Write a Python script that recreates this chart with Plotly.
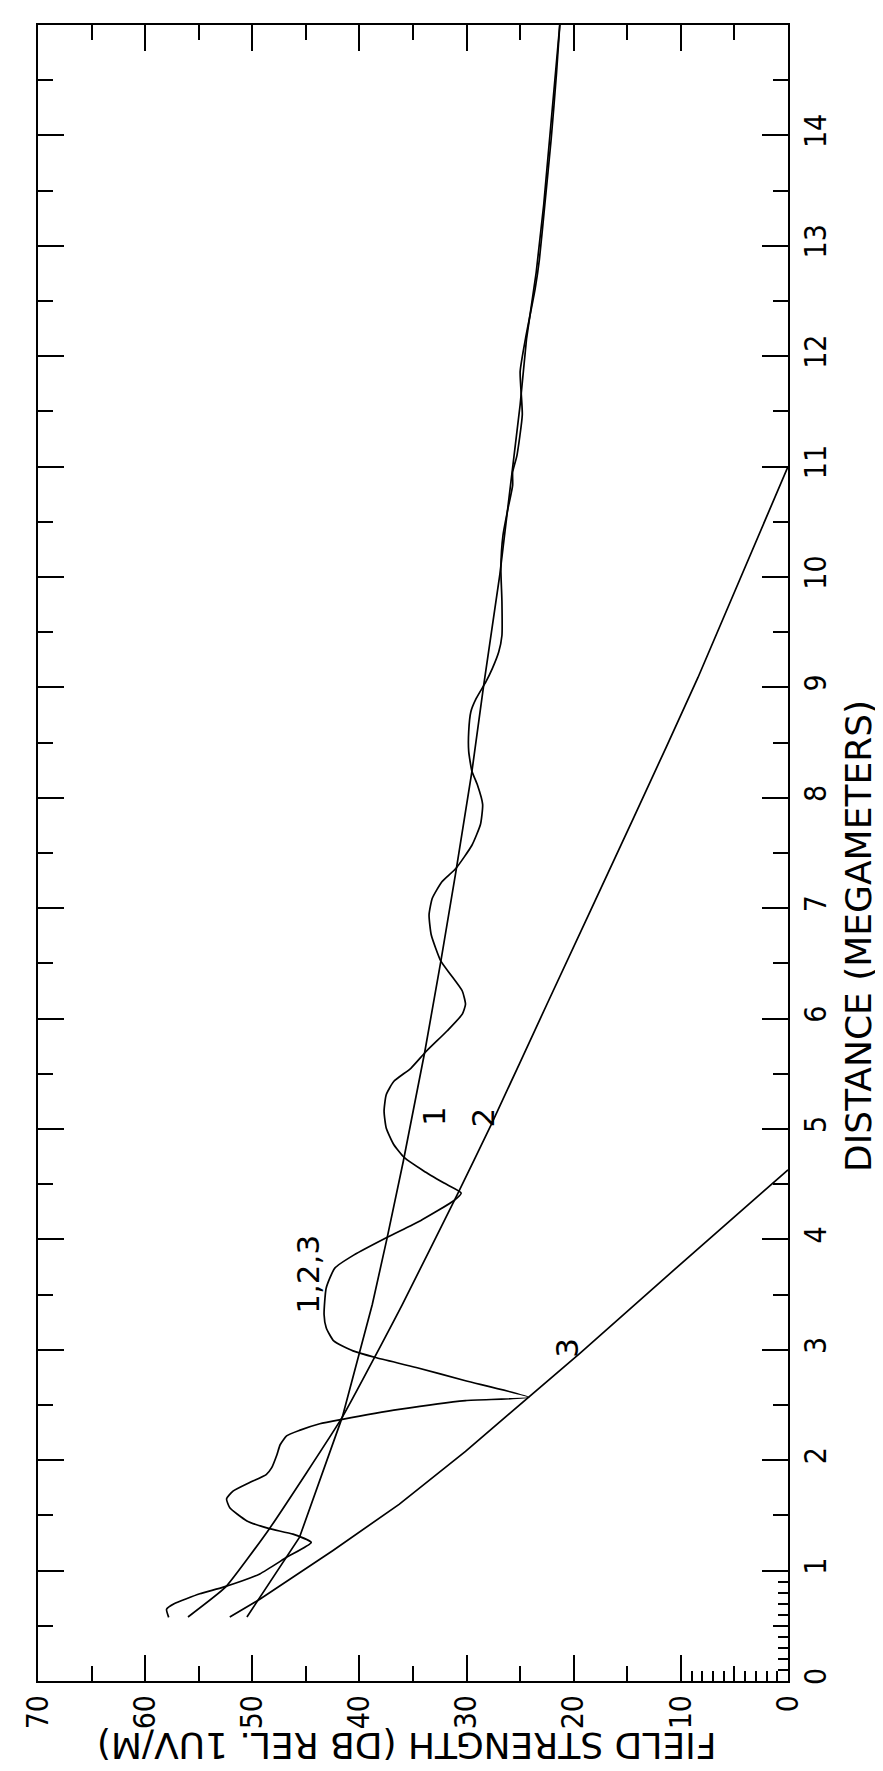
import plotly.graph_objects as go

# ---- data (distance in megameters, field strength in dB rel. 1 uV/m) ----
mode1_dist = [0.58, 1.30, 2.39, 3.41, 4.02, 4.71, 5.70, 6.52, 7.33, 8.24, 9.02,
              10.02, 10.83, 11.56, 12.16, 12.76, 13.37, 14.27, 15.0]
mode1_field = [50.5, 45.6, 41.6, 38.8, 37.4, 35.9, 33.9, 32.4, 31.0, 29.5, 28.4,
               26.9, 25.9, 25.0, 24.4, 23.5, 22.8, 22.0, 21.3]

mode2_dist = [0.58, 0.85, 1.38, 2.39, 3.41, 4.42, 5.04, 6.13, 7.82, 9.09, 11.0]
mode2_field = [56.0, 52.5, 48.4, 41.6, 36.0, 30.8, 27.7, 22.5, 14.4, 8.4, 0.0]

mode3_dist = [0.58, 0.74, 1.18, 1.60, 2.08, 2.57, 2.97, 3.65, 4.50, 4.63]
mode3_field = [52.1, 49.3, 42.5, 36.3, 30.1, 24.2, 19.4, 11.5, 1.5, 0.0]

sum_dist = [0.576, 0.65, 0.70, 0.79, 0.85, 0.97, 1.12, 1.255, 1.33, 1.38, 1.45, 1.57,
            1.65, 1.72, 1.80, 1.87, 1.93, 2.05, 2.14, 2.22, 2.27, 2.33, 2.37, 2.46,
            2.54, 2.57, 2.72, 2.84, 2.93, 2.99, 3.08, 3.20, 3.32, 3.56, 3.74, 3.86,
            4.02, 4.17, 4.35, 4.42, 4.51, 4.62, 4.74, 4.86, 5.01, 5.16, 5.31, 5.43,
            5.55, 5.70, 5.89, 6.04, 6.13, 6.25, 6.40, 6.52, 6.76, 6.94, 7.09, 7.24,
            7.36, 7.57, 7.76, 7.94, 8.12, 8.24, 8.42, 8.60, 8.78, 8.90, 9.05, 9.17,
            9.32, 9.47, 9.78, 10.08, 10.38, 10.59, 10.83, 10.95, 11.10, 11.47, 11.86,
            12.16, 12.61, 12.88, 13.37, 13.97, 14.57, 15.0]
sum_field = [57.8, 58.0, 57.3, 54.9, 52.7, 49.3, 46.8, 44.5, 46.2, 48.4, 50.5, 52.1,
             52.4, 51.8, 50.2, 48.7, 48.2, 47.7, 47.4, 46.8, 45.6, 43.7, 41.6, 36.3,
             30.1, 24.2, 30.1, 34.7, 38.5, 40.6, 42.4, 43.1, 43.3, 43.1, 42.3, 40.5,
             37.4, 34.3, 31.2, 30.5, 32.1, 34.0, 35.8, 36.8, 37.5, 37.7, 37.5, 36.8,
             35.2, 33.8, 31.8, 30.4, 30.1, 30.4, 31.5, 32.4, 33.3, 33.5, 33.2, 32.3,
             31.0, 29.5, 28.7, 28.5, 29.0, 29.5, 29.8, 29.8, 29.6, 29.1, 28.2, 27.6,
             27.0, 26.7, 26.7, 26.8, 26.6, 26.2, 25.7, 25.7, 25.3, 24.8, 25.0,
             24.5, 23.6, 23.2, 22.7, 22.1, 21.6, 21.3]

field_ticks = [0, 10, 20, 30, 40, 50, 60, 70]
dist_ticks = list(range(0, 16))
fine_field_ticks = [1, 2, 3, 4, 5, 6, 7, 8, 9]
fine_dist_ticks = [0.1, 0.2, 0.3, 0.4, 0.5, 0.6, 0.7, 0.8, 0.9]

curve_labels = ["1", "2", "3", "1,2,3"]
curve_label_field = [33.1, 28.5, 20.7, 44.8]
curve_label_dist = [5.12, 5.10, 3.02, 3.68]

# ---- figure ----
LINE = dict(color="black", width=1.7)
TICKFONT = dict(family="Liberation Sans Narrow, DejaVu Sans Condensed, DejaVu Sans, sans-serif",
                size=30, color="black")
TITLEFONT = dict(family="DejaVu Sans, sans-serif", size=36, color="black")

fig = go.Figure()
for xs, ys in [(mode1_field, mode1_dist), (mode3_field, mode3_dist)]:
    fig.add_trace(go.Scatter(x=xs, y=ys, mode="lines", line=LINE,
                             showlegend=False, hoverinfo="skip"))
fig.add_trace(go.Scatter(x=mode2_field, y=mode2_dist, mode="lines",
                         line=dict(color="black", width=1.7, shape="spline", smoothing=0.4),
                         showlegend=False, hoverinfo="skip"))
fig.add_trace(go.Scatter(x=sum_field, y=sum_dist, mode="lines",
                         line=dict(color="black", width=1.7, shape="spline", smoothing=0.5),
                         showlegend=False, hoverinfo="skip"))
# dummy traces so the fine-tick overlay axes are drawn
fig.add_trace(go.Scatter(x=[None], y=[None], xaxis="x2", yaxis="y",
                         showlegend=False, hoverinfo="skip"))
fig.add_trace(go.Scatter(x=[None], y=[None], xaxis="x", yaxis="y2",
                         showlegend=False, hoverinfo="skip"))

for t, fx, dy in zip(curve_labels, curve_label_field, curve_label_dist):
    fig.add_annotation(x=fx, y=dy, text=t, showarrow=False, textangle=-90,
                       xanchor="center", yanchor="middle",
                       font=dict(family="DejaVu Sans, sans-serif", size=31, color="black"))

fig.add_annotation(x=0.491, y=-0.039, xref="paper", yref="paper",
                   text="FIELD STRENGTH (DB REL. 1UV/M)", showarrow=False,
                   textangle=180, xanchor="center", yanchor="middle", font=TITLEFONT)
fig.add_annotation(x=1.095, y=0.45, xref="paper", yref="paper",
                   text="DISTANCE (MEGAMETERS)", showarrow=False,
                   textangle=-90, xanchor="center", yanchor="middle", font=TITLEFONT)

fig.update_layout(
    width=883, height=1771,
    margin=dict(l=28, r=103, t=17, b=98),
    paper_bgcolor="white", plot_bgcolor="white",
    xaxis=dict(range=[70, 0], tickvals=field_ticks, ticks="inside", ticklen=26,
               tickwidth=2, tickcolor="black", showline=True, linewidth=2,
               linecolor="black", mirror="ticks", showgrid=False, zeroline=False,
               tickangle=-90, tickfont=TICKFONT,
               minor=dict(tickvals=[5, 15, 25, 35, 45, 55, 65], ticks="inside",
                          ticklen=15, tickwidth=2, tickcolor="black", showgrid=False)),
    yaxis=dict(range=[0, 15], tickvals=dist_ticks, side="right", ticks="inside",
               ticklen=26, tickwidth=2, tickcolor="black", showline=True, linewidth=2,
               linecolor="black", mirror="ticks", showgrid=False, zeroline=False,
               tickangle=-90, tickfont=TICKFONT,
               minor=dict(tickvals=[v + 0.5 for v in range(15)], ticks="inside",
                          ticklen=15, tickwidth=2, tickcolor="black", showgrid=False)),
    xaxis2=dict(overlaying="x", anchor="y", side="bottom", range=[70, 0],
                tickvals=fine_field_ticks, ticks="inside", ticklen=10, tickwidth=2,
                tickcolor="black", showticklabels=False, showline=False,
                showgrid=False, zeroline=False),
    yaxis2=dict(overlaying="y", anchor="x", side="right", range=[0, 15],
                tickvals=fine_dist_ticks, ticks="inside", ticklen=10, tickwidth=2,
                tickcolor="black", showticklabels=False, showline=False,
                showgrid=False, zeroline=False),
)

fig.write_html("out.html")
